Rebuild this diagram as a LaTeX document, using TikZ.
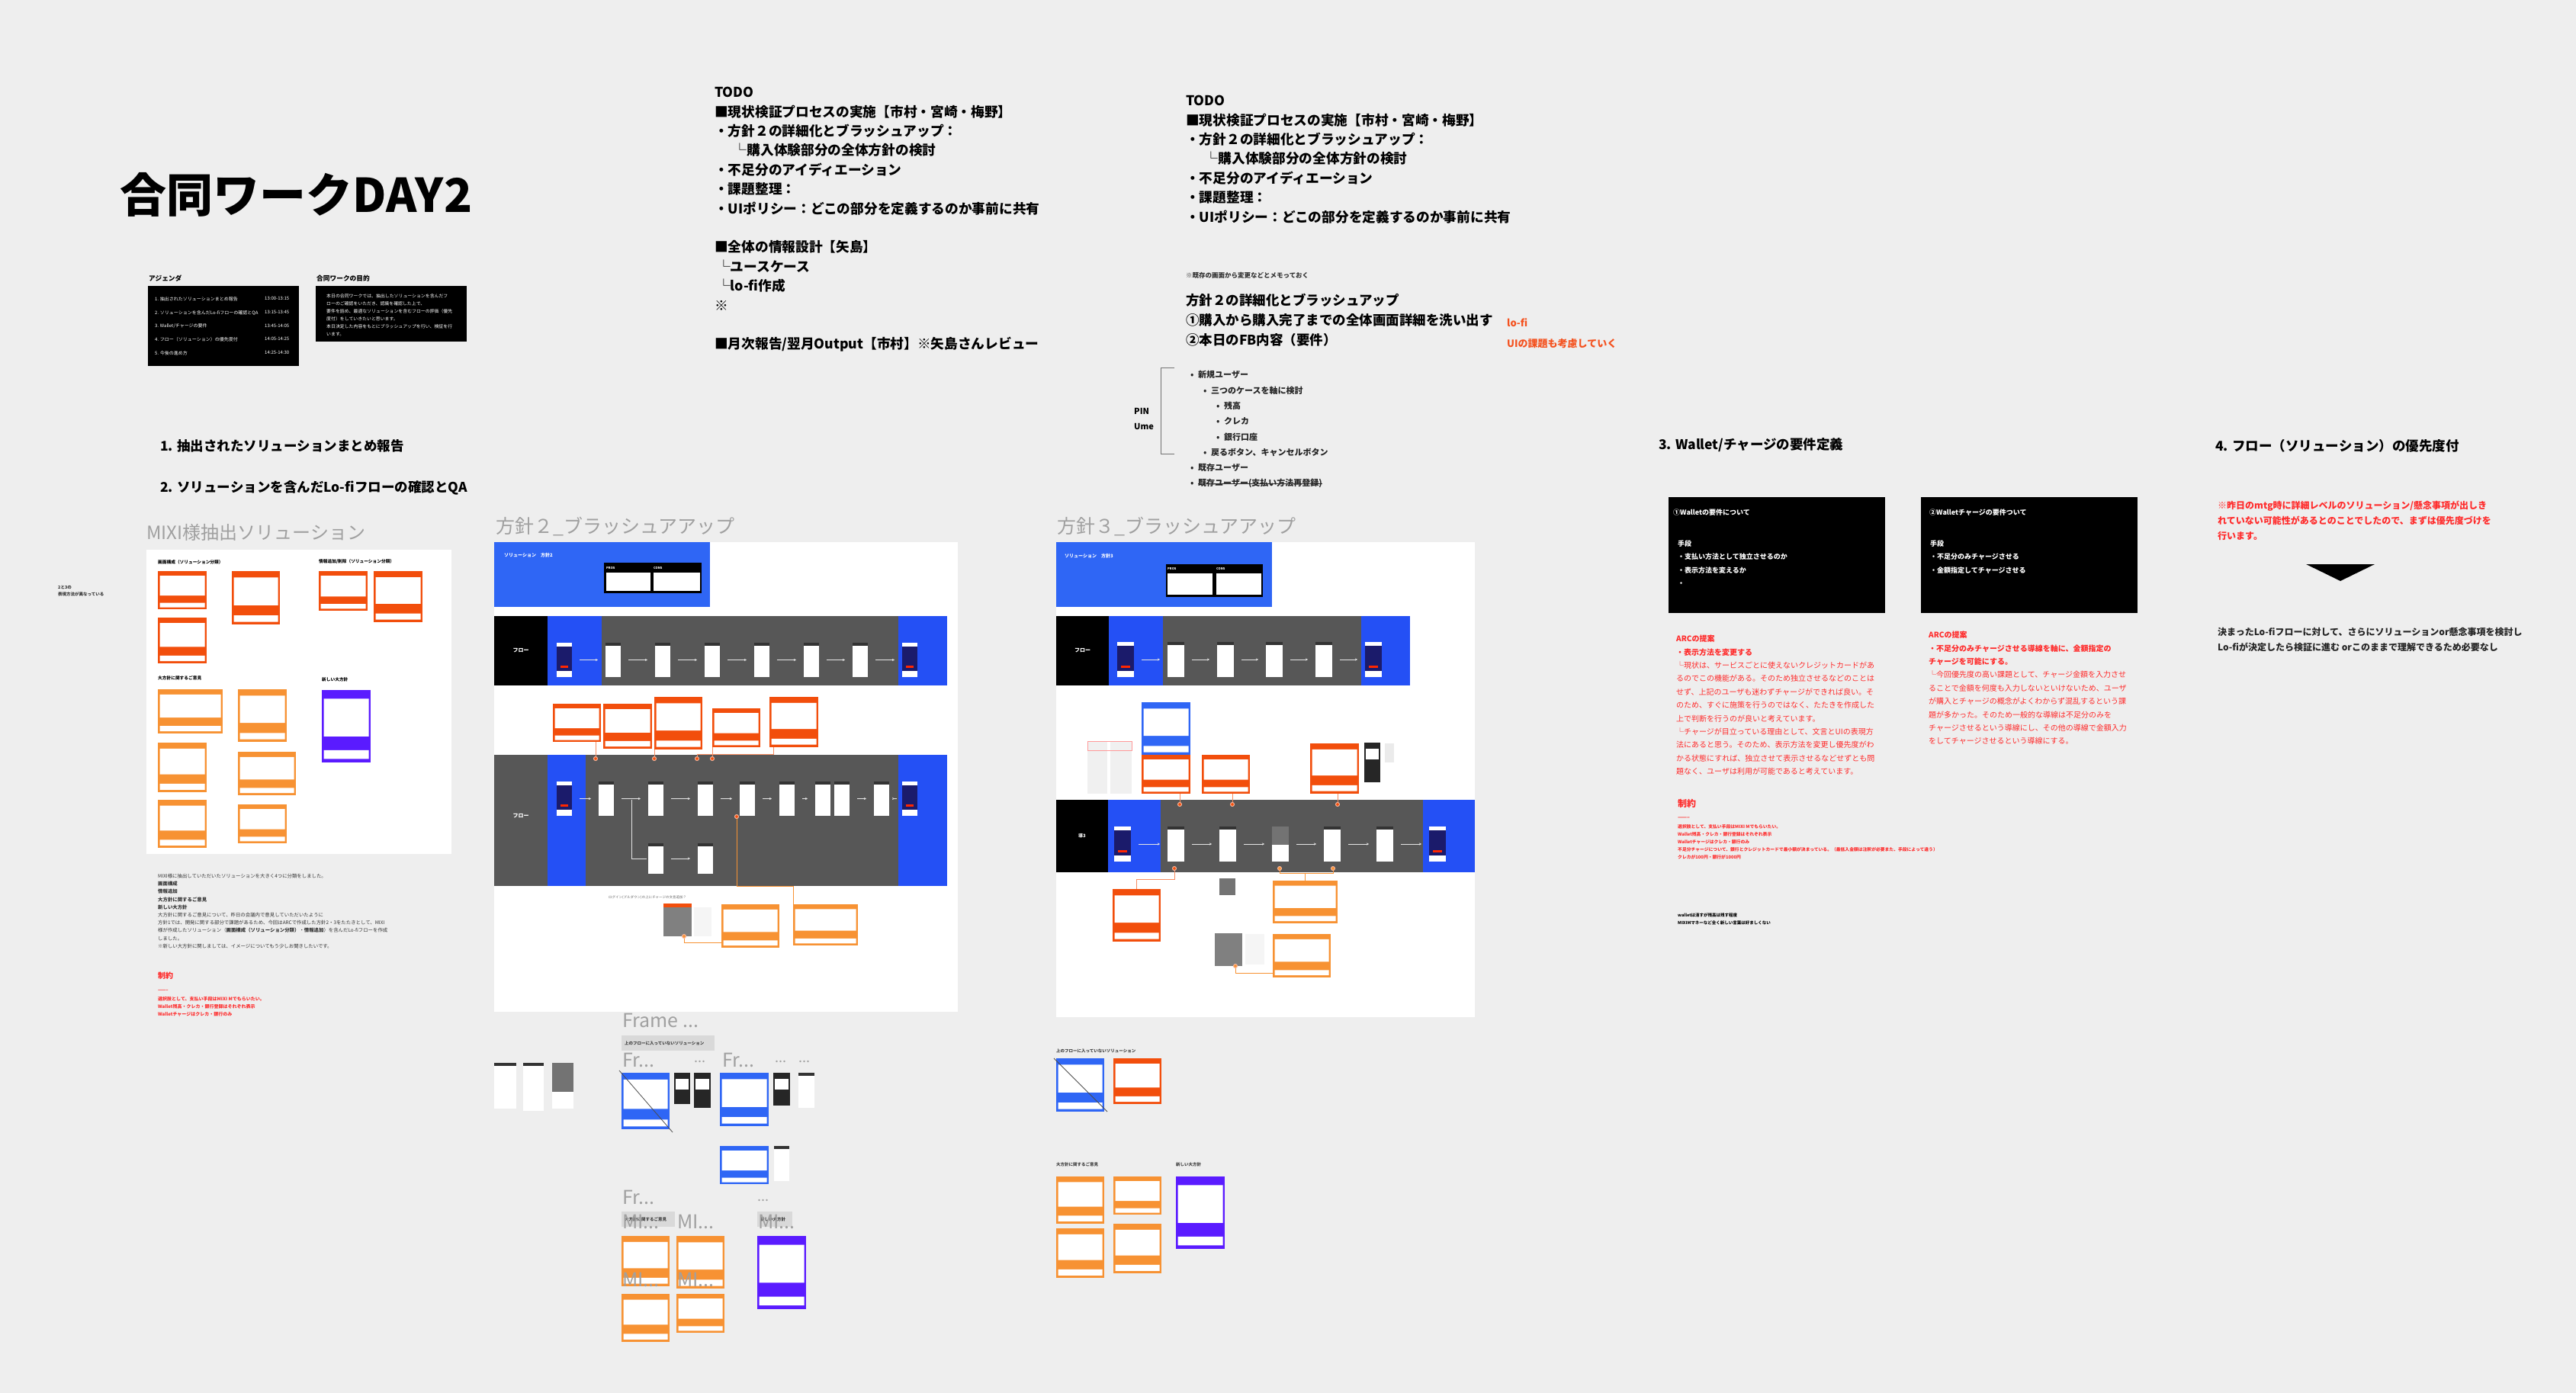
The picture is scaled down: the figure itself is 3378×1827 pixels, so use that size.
\documentclass[tikz,border=0pt]{standalone}
\usepackage{fontspec}
\setmainfont{Noto Sans CJK JP}
\usetikzlibrary{calc,arrows.meta}
\definecolor{bg}{HTML}{EEEEEE}
\definecolor{hgray}{HTML}{A0A0A0}
\definecolor{redt}{HTML}{FF2B2B}
\definecolor{oranget}{HTML}{F4511E}
\definecolor{orD}{HTML}{F24E0C}
\definecolor{orL}{HTML}{F79233}
\definecolor{purp}{HTML}{5A1BFF}
\definecolor{blueH}{HTML}{2F66F5}
\definecolor{blueR}{HTML}{2450F5}
\definecolor{rowgray}{HTML}{575757}
\definecolor{navy}{HTML}{1B1B6B}
\definecolor{lblgray}{HTML}{D9D9D9}
\newcommand\fs[2]{\fontsize{#1}{#2}\selectfont}
\tikzset{
 txt/.style={anchor=west, inner sep=0pt, align=left},
 blk/.style={anchor=north west, inner sep=0pt, align=left},
 rbx/.style={anchor=north west, inner sep=0pt, outer sep=0pt, draw=none, rectangle},
 solb/.style={rbx, fill=#1, path picture={
   \fill[white] let \p1=(path picture bounding box.north west), \p2=(path picture bounding box.south east), \n1={\y1-\y2} in
     (\x1+2.5pt,\y1-0.12*\n1) rectangle (\x2-2.5pt,\y1-0.64*\n1)
     (\x1+2.5pt,\y2+0.17*\n1) rectangle (\x2-2.5pt,\y2+0.05*\n1);}},
 phone/.style={rbx, fill=white, minimum width=20, minimum height=45, path picture={
   \fill[black!80] (path picture bounding box.north west) rectangle ([yshift=-4pt]path picture bounding box.north east);}},
 dphone/.style={rbx, fill=black!85, minimum width=20, minimum height=45, path picture={
   \fill[white] ([xshift=2pt,yshift=-8pt]path picture bounding box.north west) rectangle ([xshift=-2pt,yshift=-22pt]path picture bounding box.north east);}},
 gphone/.style={rbx, fill=white, minimum width=20, minimum height=45, path picture={
   \fill[black!55] (path picture bounding box.north west) rectangle ([yshift=22pt]path picture bounding box.south east);}},
 app/.style={rbx, fill=white, minimum width=20, minimum height=45, path picture={
   \fill[navy] ([yshift=-5pt]path picture bounding box.north west) rectangle ([yshift=8pt]path picture bounding box.south east);
   \fill[red!70!orange] ([xshift=5pt,yshift=15pt]path picture bounding box.south west) rectangle ([xshift=-5pt,yshift=12pt]path picture bounding box.south east);}},
 farr/.style={-{Stealth[length=3pt,width=3pt]}, draw=white!80!gray, line width=0.7pt, shorten >=10pt, shorten <=10pt},
 dot/.style={circle, fill=orD, draw=orD!40!white, line width=1pt, inner sep=0pt, minimum size=5pt},
 conn/.style={draw=orD!65!white, line width=0.8pt},
 bigg/.style={txt, font={\fs{25}{25}}, text=hgray},
}
\newcommand\SB[6]{\node[solb=#6, minimum width={#4-#2}, minimum height={#5-#3}] (#1) at (#2,#3) {};}
\newcommand\RB[6]{\node[rbx, fill=#6, minimum width={#4-#2}, minimum height={#5-#3}] (#1) at (#2,#3) {};}
\begin{document}
\begin{tikzpicture}[x=1pt,y=-1pt]
\useasboundingbox (0,0) rectangle (3378,1827);
\fill[bg] (0,0) rectangle (3378,1827);

% ---------- title and agenda
\node[txt, font={\fs{61}{61}\bfseries}] (title) at (157,255) {合同ワークDAY2};
\node[txt, font={\fs{8.7}{10}\bfseries}] (aglbl) at (195,365) {アジェンダ};
\RB{agbox}{194}{375}{392}{480}{black}
\node[blk, font={\fs{6}{17.8}}, text=white] (agitems) at (203,389) {1. 抽出されたソリューションまとめ報告\\2. ソリューションを含んだLo-fiフローの確認とQA\\3. Wallet/チャージの要件\\4. フロー（ソリューション）の優先度付\\5. 今後の進め方};
\node[blk, font={\fs{6}{17.8}}, text=white] (agtimes) at (347,389) {13:00-13:15\\13:15-13:45\\13:45-14:05\\14:05-14:25\\14:25-14:30};
\node[txt, font={\fs{8.7}{10}\bfseries}] (purlbl) at (415,365) {合同ワークの目的};
\RB{purbox}{414}{375}{612}{448}{black}
\node[blk, font={\fs{5.9}{10}}, text=white] (purtxt) at (428,385) {本日の合同ワークでは、抽出したソリューションを含んだフ\\ローのご確認をいただき、認識を確認した上で、\\要件を詰め、最適なソリューションを含むフローの評価（優先\\度付）をしていきたいと思います。\\本日決定した内容をもとにブラッシュアップを行い、検証を行\\います。};

% ---------- TODO left
\node[blk, font={\fs{17.7}{25.4}\bfseries}] (todo1) at (937,114) {TODO\\■現状検証プロセスの実施【市村・宮崎・梅野】\\・方針２の詳細化とブラッシュアップ：\\\hspace*{1.4em}└購入体験部分の全体方針の検討\\・不足分のアイディエーション\\・課題整理：\\・UIポリシー：どこの部分を定義するのか事前に共有\\[25.4pt]■全体の情報設計【矢島】\\\hspace*{3pt}└ユースケース\\\hspace*{3pt}└lo-fi作成\\※\\[25.4pt]■月次報告/翌月Output【市村】※矢島さんレビュー};

% ---------- TODO right
\node[blk, font={\fs{17.7}{25.4}\bfseries}] (todo2) at (1555,125) {TODO\\■現状検証プロセスの実施【市村・宮崎・梅野】\\・方針２の詳細化とブラッシュアップ：\\\hspace*{1.4em}└購入体験部分の全体方針の検討\\・不足分のアイディエーション\\・課題整理：\\・UIポリシー：どこの部分を定義するのか事前に共有};
\node[txt, font={\fs{8.5}{9}\bfseries}, text=black!80] (memo) at (1555,361) {※既存の画面から変更などとメモっておく};
\node[blk, font={\fs{17.5}{26}\bfseries}] (todo3) at (1555,385) {方針２の詳細化とブラッシュアップ\\①購入から購入完了までの全体画面詳細を洗い出す\\②本日のFB内容（要件）};
\node[txt, font={\fs{13}{13}\bfseries}, text=oranget] (lofi) at (1976,423) {lo-fi};
\node[txt, font={\fs{13}{13}\bfseries}, text=oranget] (uikadai) at (1976,451) {UIの課題も考慮していく};
\node[blk, font={\fs{11}{20.3}\bfseries}, text=black!85] (ulist) at (1561,486.5) {\makebox[10pt][l]{•}新規ユーザー\\\hspace*{17pt}\makebox[10pt][l]{•}三つのケースを軸に検討\\\hspace*{34pt}\makebox[10pt][l]{•}残高\\\hspace*{34pt}\makebox[10pt][l]{•}クレカ\\\hspace*{34pt}\makebox[10pt][l]{•}銀行口座\\\hspace*{17pt}\makebox[10pt][l]{•}戻るボタン、キャンセルボタン\\\makebox[10pt][l]{•}既存ユーザー};
\node[txt, font={\fs{11}{11}\bfseries}, text=black!85] (strk) at (1561,634) {\makebox[10pt][l]{•}既存ユーザー(支払い方法再登録)};
\draw[black!85, line width=0.8pt] ([xshift=10pt]strk.west) -- (strk.east);
\node[txt, font={\fs{11}{11}\bfseries}] (pin) at (1487,539) {PIN};
\node[txt, font={\fs{11}{11}\bfseries}] (ume) at (1487,559) {Ume};
\coordinate (brt) at (1540,482);
\coordinate (brb) at (1540,595);
\draw[black!55, line width=0.9pt] (brt) -- ++(-18,0) |- (brb);

% ---------- headings
\node[txt, font={\fs{17.5}{18}\bfseries}] (h1) at (210,585) {1. 抽出されたソリューションまとめ報告};
\node[txt, font={\fs{17.5}{18}\bfseries}] (h2) at (210,640) {2. ソリューションを含んだLo-fiフローの確認とQA};
\node[txt, font={\fs{17.5}{18}\bfseries}] (h3) at (2175,584) {3. Wallet/チャージの要件定義};
\node[txt, font={\fs{17.5}{18}\bfseries}] (h4) at (2905,585) {4. フロー（ソリューション）の優先度付};
\node[bigg, font={\fs{24}{24}}] (mixititle) at (192,698) {MIXI様抽出ソリューション};
\node[bigg] (p2title) at (650,691) {方針２\_ブラッシュアアップ};
\node[bigg] (p3title) at (1386,691) {方針３\_ブラッシュアアップ};
\node[blk, font={\fs{5.5}{9}\bfseries}, text=black!80] (sidenote) at (76,768) {2と3の\\表現方法が異なっている};

% ---------- Wallet section
\RB{w1}{2188}{652}{2472}{804}{black}
\RB{w2}{2519}{652}{2803}{804}{black}
\node[txt, font={\fs{9}{9}\bfseries}, text=white] (w1t) at (2194,672) {①Walletの要件について};
\node[blk, font={\fs{9}{17.3}\bfseries}, text=white] (w1b) at (2200,708.5) {手段\\・支払い方法として独立させるのか\\・表示方法を変えるか\\・};
\node[txt, font={\fs{9}{9}\bfseries}, text=white] (w2t) at (2530,672) {②Walletチャージの要件ついて};
\node[blk, font={\fs{9}{17.3}\bfseries}, text=white] (w2b) at (2531,708.5) {手段\\・不足分のみチャージさせる\\・金額指定してチャージさせる};
\node[blk, font={\fs{10}{17.4}}, text=redt] (arc1) at (2198,833) {\textbf{ARCの提案}\\\textbf{・表示方法を変更する}\\└現状は、サービスごとに使えないクレジットカードがあ\\るのでこの機能がある。そのため独立させるなどのことは\\せず、上記のユーザも迷わずチャージができれば良い。そ\\のため、すぐに施策を行うのではなく、たたきを作成した\\上で判断を行うのが良いと考えています。\\└チャージが目立っている理由として、文言とUIの表現方\\法にあると思う。そのため、表示方法を変更し優先度がわ\\かる状態にすれば、独立させて表示させるなどせずとも問\\題なく、ユーザは利用が可能であると考えています。};
\node[blk, font={\fs{10}{17.4}}, text=redt] (arc2) at (2529,828) {\textbf{ARCの提案}\\\textbf{・不足分のみチャージさせる導線を軸に、金額指定の}\\\textbf{チャージを可能にする。}\\└今回優先度の高い課題として、チャージ金額を入力させ\\ることで金額を何度も入力しないといけないため、ユーザ\\が購入とチャージの概念がよくわからず混乱するという課\\題が多かった。そのため一般的な導線は不足分のみを\\チャージさせるという導線にし、その他の導線で金額入力\\をしてチャージさせるという導線にする。};
\node[txt, font={\fs{12}{12}\bfseries}, text=redt] (sei1) at (2200,1054) {制約};
\node[txt, font={\fs{7}{7}\bfseries}, text=redt] (sei1d) at (2200,1073) {--------};
\node[blk, font={\fs{5.8}{10.2}\bfseries}, text=redt] (sei1b) at (2200,1081) {選択肢として、支払い手段はMIXI Mでもらいたい。\\Wallet残高・クレカ・銀行登録はそれぞれ表示\\Walletチャージはクレカ・銀行のみ\\不足分チャージについて、銀行とクレジットカードで最小額が決まっている。（最低入金額は注釈が必要また、手段によって違う）\\クレカが100円・銀行が1000円};
\node[blk, font={\fs{5.5}{10}\bfseries}] (wnote) at (2200,1197) {walletは消すが残高は残す程度\\MIXIMマネーなど全く新しい言葉は好ましくない};

% ---------- section 4
\node[blk, font={\fs{12}{20}\bfseries}, text=redt] (s4red) at (2908,657) {※昨日のmtg時に詳細レベルのソリューション/懸念事項が出しき\\れていない可能性があるとのことでしたので、まずは優先度づけを\\行います。};
\coordinate (tria) at (3024,740);
\coordinate (trib) at (3114,740);
\coordinate (tric) at (3069,762);
\fill[black] (tria) -- (trib) -- (tric) -- cycle;
\node[blk, font={\fs{12}{20}\bfseries}, text=black!85] (s4blk) at (2908,823) {決まったLo-fiフローに対して、さらにソリューションor懸念事項を検討し\\Lo-fiが決定したら検証に進む orこのままで理解できるため必要なし};

% ---------- MIXI panel
\RB{mixi}{192}{721}{592}{1120}{white}
\node[txt, font={\fs{5.7}{6}\bfseries}] (mxl1) at (207,737) {画面構成（ソリューション分類）};
\node[txt, font={\fs{5.7}{6}\bfseries}] (mxl2) at (418,737) {情報追加/削除（ソリューション分類）};
\node[txt, font={\fs{5.7}{6}\bfseries}] (mxl3) at (207,889) {大方針に関するご意見};
\node[txt, font={\fs{5.7}{6}\bfseries}] (mxl4) at (422,891) {新しい大方針};
\SB{ma1}{207}{749}{271}{799}{orD}
\SB{ma2}{207}{810}{271}{870}{orD}
\SB{ma3}{304}{749}{367}{819}{orD}
\SB{mb1}{418}{749}{482}{801}{orD}
\SB{mb2}{490}{749}{554}{816}{orD}
\SB{mc1}{207}{904}{292}{962}{orL}
\SB{mc2}{312}{904}{376}{973}{orL}
\SB{mc3}{207}{974}{271}{1039}{orL}
\SB{mc4}{312}{986}{388}{1043}{orL}
\SB{mc5}{207}{1049}{271}{1112}{orL}
\SB{mc6}{312}{1055}{376}{1106}{orL}
\SB{md1}{422}{905}{486}{1000}{purp}
\node[blk, font={\fs{6.4}{10.2}}, text=black!80] (mixitxt) at (207,1146) {MIXI様に抽出していただいたソリューションを大きく4つに分類をしました。\\\textbf{画面構成}\\\textbf{情報追加}\\\textbf{大方針に関するご意見}\\\textbf{新しい大方針}\\大方針に関するご意見について、昨日の会議内で意見していただいたように\\方針1では、開発に関する部分で課題があるため、今回はARCで作成した方針2・3をたたきとして、MIXI\\様が作成したソリューション（\textbf{画面構成（ソリューション分類）}・\textbf{情報追加}）を含んだLo-fiフローを作成\\しました。\\※新しい大方針に関しましては、イメージについてもう少しお聞きしたいです。};
\node[txt, font={\fs{10}{10}\bfseries}, text=redt] (sei2) at (207,1280) {制約};
\node[txt, font={\fs{6}{6}\bfseries}, text=redt] (sei2d) at (207,1299) {--------};
\node[blk, font={\fs{6}{10.3}\bfseries}, text=redt] (sei2b) at (207,1307) {選択肢として、支払い手段はMIXI Mでもらいたい。\\Wallet残高・クレカ・銀行登録はそれぞれ表示\\Walletチャージはクレカ・銀行のみ};

% ---------- 方針2 panel
\RB{p2panel}{648}{711}{1256}{1327}{white}
\RB{p2head}{648}{711}{931}{796}{blueH}
\node[txt, font={\fs{6}{6}\bfseries}, text=white] (p2ht) at (661,728) {ソリューション　方針2};
\RB{p2pc}{792}{738}{920}{778}{black}
\RB{p2pros}{795}{751}{853}{775}{white}
\RB{p2cons}{857}{751}{918}{775}{white}
\node[txt, font={\fs{4}{4}\bfseries}, text=white] (p2prosl) at (795,745) {PROS};
\node[txt, font={\fs{4}{4}\bfseries}, text=white] (p2consl) at (857,745) {CONS};
\RB{p2r1a}{648}{808}{718}{899}{black}
\RB{p2r1b}{718}{808}{789}{899}{blueR}
\RB{p2r1c}{789}{808}{1178}{899}{rowgray}
\RB{p2r1d}{1178}{808}{1242}{899}{blueR}
\node[font={\fs{7}{7}\bfseries}, text=white, inner sep=0pt] (p2r1t) at (p2r1a.center) {フロー};
\node[app] (pa1) at (730,843) {};
\foreach \i/\x in {2/794,3/859,4/924,5/989,6/1054,7/1118}{\node[phone] (pa\i) at (\x,843) {};}
\node[app] (pa8) at (1183,843) {};
\foreach \i/\j in {1/2,2/3,3/4,4/5,5/6,6/7,7/8}{\draw[farr] (pa\i.east) -- (pa\j.west);}
\RB{p2r2a}{648}{990}{718}{1162}{rowgray}
\RB{p2r2b}{718}{990}{768}{1162}{blueR}
\RB{p2r2c}{768}{990}{1178}{1162}{rowgray}
\RB{p2r2d}{1178}{990}{1242}{1162}{blueR}
\node[font={\fs{7}{7}\bfseries}, text=white, inner sep=0pt] (p2r2t) at (683,1070) {フロー};
\node[app] (pb1) at (730,1025) {};
\foreach \i/\x in {2/785,3/850,4/915,5/970,6/1022,7/1069,8/1094,9/1146}{\node[phone] (pb\i) at (\x,1025) {};}
\node[app] (pb10) at (1183,1025) {};
\foreach \i/\j in {1/2,2/3,3/4,4/5,5/6,6/7,8/9,9/10}{\draw[farr] (pb\i.east) -- (pb\j.west);}
\node[phone, minimum height=40] (pc1) at (850,1106) {};
\node[phone, minimum height=40] (pc2) at (915,1106) {};
\draw[farr] (pc1.east) -- (pc2.west);
\coordinate (brA) at (828,1049);
\draw[white!80!gray, line width=0.7pt] (brA) |- ([xshift=-2pt]pc1.west);
\SB{e1}{725}{923}{788}{973}{orD}
\SB{e2}{791}{923}{855}{982}{orD}
\SB{e3}{858}{914}{921}{983}{orD}
\SB{e4}{934}{929}{997}{980}{orD}
\SB{e5}{1009}{914}{1073}{980}{orD}
\node[dot] (d1) at (781,995) {};
\node[dot] (d2) at (858,995) {};
\node[dot] (d3) at (914,995) {};
\node[dot] (d4) at (934,995) {};
\draw[conn] (e1.south -| d1) -- (d1);
\draw[conn] (e3.south west) -- (d2);
\draw[conn] (e4.south west) -- (d4);
\coordinate (c5) at (1014,989);
\draw[conn] ([xshift=5pt]e5.south west) -- (c5) -| (d3);
\node[txt, font={\fs{4.5}{5}}, text=black!60] (p2note) at (798,1177) {ログイン(プルダウン)の上にチャージの文言追加？};
\RB{g2m}{870}{1185}{907}{1228}{black!50}
\RB{g2ms}{870}{1185}{907}{1190}{orD}
\RB{g2mw}{910}{1190}{933}{1228}{black!4}
\SB{f1}{946}{1186}{1022}{1243}{orL}
\SB{f2}{1040}{1186}{1125}{1240}{orL}
\coordinate (c6a) at (966,1071);
\coordinate (c6) at (966,1162);
\draw[conn, draw=orL] (c6a) -- (c6) -| (f2.north west);
\node[dot] (d5) at (966,1071) {};
\node[dot, fill=orL] (d6) at (897,1228) {};
\draw[conn, draw=orL] ([yshift=7pt]f1.south west) -| (d6);

% ---------- 方針3 panel
\RB{p3panel}{1385}{711}{1934}{1334}{white}
\RB{p3head}{1385}{711}{1668}{796}{blueH}
\node[txt, font={\fs{6}{6}\bfseries}, text=white] (p3ht) at (1396,729) {ソリューション　方針3};
\RB{p3pc}{1529}{740}{1656}{783}{black}
\RB{p3pros}{1531}{752}{1590}{780}{white}
\RB{p3cons}{1595}{752}{1654}{780}{white}
\node[txt, font={\fs{4}{4}\bfseries}, text=white] (p3prosl) at (1531,746) {PROS};
\node[txt, font={\fs{4}{4}\bfseries}, text=white] (p3consl) at (1595,746) {CONS};
\RB{p3r1a}{1385}{808}{1454}{899}{black}
\RB{p3r1b}{1454}{808}{1525}{899}{blueR}
\RB{p3r1c}{1525}{808}{1785}{899}{rowgray}
\RB{p3r1d}{1785}{808}{1849}{899}{blueR}
\node[font={\fs{7}{7}\bfseries}, text=white, inner sep=0pt] (p3r1t) at (p3r1a.center) {フロー};
\node[app, minimum width=22, minimum height=46] (qa1) at (1465,842) {};
\foreach \i/\x in {2/1531,3/1596,4/1660,5/1725}{\node[phone, minimum width=22, minimum height=46] (qa\i) at (\x,842) {};}
\node[app, minimum width=22, minimum height=46] (qa6) at (1790,842) {};
\foreach \i/\j in {1/2,2/3,3/4,4/5,5/6}{\draw[farr] (qa\i.east) -- (qa\j.west);}
\RB{p3r2a}{1385}{1049}{1453}{1144}{black}
\RB{p3r2b}{1453}{1049}{1522}{1144}{blueR}
\RB{p3r2c}{1522}{1049}{1866}{1144}{rowgray}
\RB{p3r2d}{1866}{1049}{1934}{1144}{blueR}
\node[font={\fs{6}{6}\bfseries}, text=white, inner sep=0pt] (p3r2t) at (p3r2a.center) {導3};
\node[app, minimum width=22, minimum height=46] (qb1) at (1461,1084) {};
\node[phone, minimum width=22, minimum height=46] (qb2) at (1531,1084) {};
\node[phone, minimum width=22, minimum height=46] (qb3) at (1599,1084) {};
\node[gphone, minimum width=22, minimum height=46] (qb4) at (1668,1084) {};
\node[phone, minimum width=22, minimum height=46] (qb5) at (1736,1084) {};
\node[phone, minimum width=22, minimum height=46] (qb6) at (1805,1084) {};
\node[app, minimum width=22, minimum height=46] (qb7) at (1874,1084) {};
\foreach \i/\j in {1/2,2/3,3/4,4/5,5/6,6/7}{\draw[farr] (qb\i.east) -- (qb\j.west);}
\SB{g1}{1497}{921}{1561}{990}{blueH}
\SB{g1b}{1497}{990}{1561}{1041}{orD}
\SB{g2}{1576}{990}{1639}{1041}{orD}
\SB{g3}{1718}{975}{1782}{1041}{orD}
\RB{scr1}{1426}{972}{1452}{1041}{black!6}
\RB{scr2}{1456}{972}{1484}{1041}{black!6}
\draw[red!40, line width=0.6pt] (scr1.north west) rectangle ([yshift=-12pt]scr2.north east);
\node[dphone, minimum width=21, minimum height=52] (qd1) at (1789,974) {};
\RB{qd2}{1816}{975}{1828}{1000}{black!8}
\node[dot] (dt1) at (1547,1055) {};
\node[dot] (dt2) at (1616,1055) {};
\node[dot] (dt3) at (1754,1055) {};
\draw[conn] (g1b.south -| dt1) -- (dt1);
\draw[conn] (g2.south -| dt2) -- (dt2);
\draw[conn] (g3.south -| dt3) -- (dt3);
\SB{hh1}{1459}{1166}{1522}{1235}{orD}
\SB{hh2}{1669}{1155}{1754}{1211}{orL}
\SB{hh3}{1669}{1225}{1745}{1282}{orL}
\node[gphone, minimum width=21, minimum height=44] (qe1) at (1599,1152) {};
\RB{g3m}{1593}{1224}{1629}{1267}{black!50}
\RB{g3mw}{1633}{1225}{1658}{1265}{black!4}
\coordinate (c31) at (1490.5,1153);
\coordinate (c32) at (1711.5,1145);
\coordinate (c31b) at (1540,1139);
\coordinate (c32a) at (1678,1139);
\coordinate (c32b) at (1748,1139);
\coordinate (c33) at (1620,1267);
\draw[conn] (hh1.north) -- (c31) -| (c31b);
\draw[conn, draw=orL] (hh2.north) -- (c32);
\draw[conn, draw=orL] (c32a) |- (c32) -| (c32b);
\draw[conn, draw=orL] ([yshift=6pt]hh3.south west) -| (c33);
\node[dot] (db1) at (c31b) {};
\node[dot, fill=orL] (db2) at (c32a) {};
\node[dot, fill=orL] (db3) at (c32b) {};
\node[dot, fill=orL] (dg3) at (c33) {};

% ---------- bottom left group
\node[phone, minimum width=29, minimum height=60] (bl1) at (648,1394) {};
\node[phone, minimum width=27, minimum height=63] (bl2) at (686,1394) {};
\node[gphone, minimum width=28, minimum height=60] (bl3) at (724,1394) {};
\node[bigg] (fr0) at (816,1338) {Frame ...};
\RB{ul1}{815}{1358}{937}{1378}{lblgray}
\node[txt, font={\fs{5.5}{6}\bfseries}, text=black!75] (ul1t) at ([xshift=4pt]ul1.west) {上のフローに入っていないソリューション};
\node[bigg] (fr1) at (816,1390) {Fr...};
\node[bigg, font={\fs{18}{18}}] (fr1d) at (910,1392) {...};
\node[bigg] (fr2) at (947,1390) {Fr...};
\node[bigg, font={\fs{18}{18}}] (fr2d) at (1016,1392) {...};
\node[bigg, font={\fs{18}{18}}] (fr2e) at (1047,1392) {...};
\SB{j1}{815}{1407}{878}{1481}{blueH}
\draw[black!70, line width=0.8pt] ([xshift=-3pt,yshift=3pt]j1.north west) -- ([xshift=4pt,yshift=-4pt]j1.south east);
\node[dphone, minimum width=21, minimum height=41] (jp1) at (884,1407) {};
\node[dphone, minimum width=22, minimum height=46] (jp2) at (910,1407) {};
\SB{j2}{944}{1407}{1008}{1477}{blueH}
\node[dphone, minimum width=22, minimum height=43] (jp3) at (1014,1407) {};
\node[phone, minimum width=21, minimum height=46] (jp4) at (1047,1407) {};
\SB{j3}{944}{1503}{1008}{1553}{blueH}
\node[phone, minimum width=20, minimum height=46] (jp5) at (1015,1503) {};
\node[bigg] (fr3) at (816,1570) {Fr...};
\node[bigg, font={\fs{18}{18}}] (fr3d) at (993,1574) {...};
\RB{ul2}{815}{1589}{885}{1609}{lblgray}
\node[txt, font={\fs{5.5}{6}\bfseries}, text=black!75] (ul2t) at ([xshift=4pt]ul2.west) {大方針に関するご意見};
\RB{ul3}{993}{1589}{1039}{1609}{lblgray}
\node[txt, font={\fs{5.5}{6}\bfseries}, text=black!75] (ul3t) at ([xshift=4pt]ul3.west) {新しい大方針};
\SB{k1}{815}{1621}{878}{1687}{orL}
\SB{k2}{887}{1621}{950}{1690}{orL}
\SB{k3}{815}{1697}{878}{1760}{orL}
\SB{k4}{887}{1697}{950}{1748}{orL}
\SB{l1}{993}{1621}{1057}{1717}{purp}
\node[bigg] (mi1) at (816,1602) {MI...};
\node[bigg] (mi2) at (888,1602) {MI...};
\node[bigg] (mi3) at (994,1602) {MI...};
\node[bigg] (mi4) at (816,1678) {MI...};
\node[bigg] (mi5) at (888,1678) {MI...};

% ---------- bottom middle group
\node[txt, font={\fs{5.5}{6}\bfseries}, text=black!75] (bm1) at (1385,1378) {上のフローに入っていないソリューション};
\SB{m1}{1385}{1388}{1448}{1458}{blueH}
\draw[black!70, line width=0.8pt] ([xshift=-3pt]m1.north west) -- ([xshift=4pt]m1.south east);
\SB{m2}{1460}{1388}{1523}{1448}{orD}
\node[txt, font={\fs{5.5}{6}\bfseries}, text=black!75] (bm2) at (1385,1527) {大方針に関するご意見};
\node[txt, font={\fs{5.5}{6}\bfseries}, text=black!75] (bm3) at (1542,1527) {新しい大方針};
\SB{n1}{1385}{1543}{1448}{1605}{orL}
\SB{n2}{1460}{1543}{1523}{1593}{orL}
\SB{n3}{1385}{1611}{1448}{1676}{orL}
\SB{n4}{1460}{1605}{1523}{1670}{orL}
\SB{pp1}{1542}{1543}{1606}{1638}{purp}
\end{tikzpicture}
\end{document}
